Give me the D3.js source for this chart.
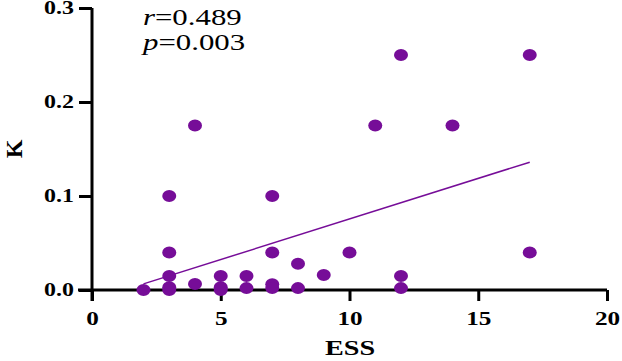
<!DOCTYPE html>
<html>
<head>
<meta charset="utf-8">
<script src="https://cdn.jsdelivr.net/npm/d3@7"></script>
<style>
  body { margin: 0; background: #fff; }
  text { font-family: "Liberation Serif", "Times New Roman", serif; }
</style>
</head>
<body>
<div id="chart"></div>
<script>
var essValues = [2, 3, 3, 3, 3, 3, 4, 4, 5, 5, 5, 6, 6, 7, 7, 7, 7, 8, 8, 9, 10, 11, 12, 12, 12, 14, 17, 17];
var kValues = [0.0, 0.1, 0.04, 0.015, 0.003, 0.0, 0.175, 0.0065, 0.015, 0.003, 0.0, 0.015, 0.002, 0.1, 0.04, 0.006, 0.002, 0.028, 0.002, 0.016, 0.04, 0.175, 0.25, 0.015, 0.002, 0.175, 0.25, 0.04];
var fitX = [2, 17];
var fitY = [0.0065, 0.136];
var xTicks = [0, 5, 10, 15, 20];
var yTicks = [0.0, 0.1, 0.2, 0.3];

var width = 622, height = 361;
var margin = {top: 8, right: 15, bottom: 71, left: 92};
var purple = "#760d98";

// the original picture is stretched sideways, so widen the text to match
function stretch(sel, f) {
	sel.each(function() {
		var w = this.getComputedTextLength();
		d3.select(this).attr("textLength", w * f).attr("lengthAdjust", "spacingAndGlyphs");
	});
}

var svg = d3.select("#chart")
	.append("svg")
	.attr("width", width)
	.attr("height", height);

var x = d3.scaleLinear()
	.domain([0, 20])
	.range([margin.left, width - margin.right]);

var y = d3.scaleLinear()
	.domain([0, 0.3])
	.range([height - margin.bottom, margin.top]);

var xAxis = g => g.attr("transform", `translate(0,${y(0)})`)
	.call(d3.axisBottom(x).tickValues(xTicks).tickFormat(d3.format("d")).tickSize(11).tickPadding(11))
	.call(g => g.selectAll("path, line").attr("stroke", "#000").attr("stroke-width", 3))
	.call(g => g.selectAll(".domain").attr("d", `M${x(0) - 14},0H${x(20)}`))
	.call(g => g.selectAll("text").attr("font-size", 18).attr("font-weight", "bold").attr("fill", "#000"));

var yAxis = g => g.attr("transform", `translate(${x(0)},0)`)
	.call(d3.axisLeft(y).tickValues(yTicks).tickFormat(d3.format(".1f")).tickSize(13).tickPadding(5))
	.call(g => g.selectAll("path, line").attr("stroke", "#000").attr("stroke-width", 3))
	.call(g => g.selectAll(".domain").attr("d", `M0,${y(0.3)}V${y(0) + 11}`))
	.call(g => g.selectAll("text").attr("font-size", 18).attr("font-weight", "bold").attr("fill", "#000"));

var gx = svg.append("g").call(xAxis);
var gy = svg.append("g").call(yAxis);
stretch(gx.selectAll("text"), 1.4);
stretch(gy.selectAll("text"), 1.33);

// regression line
svg.append("line")
	.attr("x1", x(fitX[0]))
	.attr("y1", y(fitY[0]))
	.attr("x2", x(fitX[1]))
	.attr("y2", y(fitY[1]))
	.attr("stroke", purple)
	.attr("stroke-width", 1.5);

svg.append("g")
	.selectAll("ellipse")
	.data(essValues.map((e, i) => ({ess: e, k: kValues[i]})))
	.join("ellipse")
	.attr("cx", d => x(d.ess))
	.attr("cy", d => y(d.k))
	.attr("rx", 7)
	.attr("ry", 6)
	.attr("fill", purple);

svg.append("text")
	.attr("x", 350)
	.attr("y", 355)
	.attr("text-anchor", "middle")
	.attr("font-size", 22)
	.attr("font-weight", "bold")
	.text("ESS")
	.call(stretch, 1.28);

svg.append("text")
	.attr("transform", `translate(22,${y(0.15)}) rotate(-90)`)
	.attr("text-anchor", "middle")
	.attr("font-size", 24)
	.attr("font-weight", "bold")
	.text("K");

var ann = svg.append("g").attr("font-size", 23);
ann.append("text").attr("x", 143).attr("y", 25)
	.call(t => t.append("tspan").attr("font-style", "italic").text("r"))
	.call(t => t.append("tspan").text("=0.489"))
	.call(stretch, 1.34);
ann.append("text").attr("x", 143).attr("y", 50)
	.call(t => t.append("tspan").attr("font-style", "italic").text("p"))
	.call(t => t.append("tspan").text("=0.003"))
	.call(stretch, 1.34);
</script>
</body>
</html>
